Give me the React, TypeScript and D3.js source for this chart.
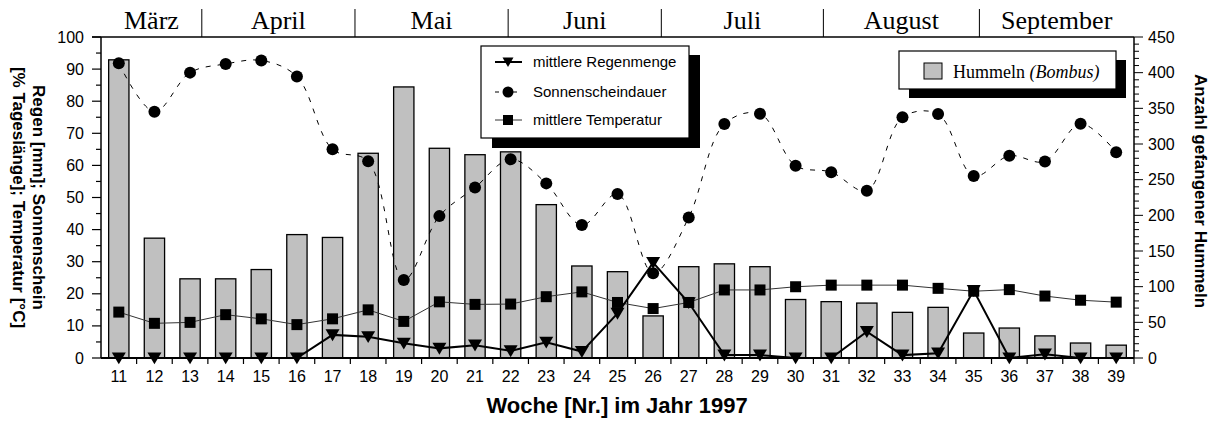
import * as d3 from 'd3';
import React from 'react';

const weeks = [11, 12, 13, 14, 15, 16, 17, 18, 19, 20, 21, 22, 23, 24, 25, 26, 27, 28, 29, 30, 31, 32, 33, 34, 35, 36, 37, 38, 39];
const hummeln = [418, 168, 111, 111, 124, 173, 169, 287, 380, 294, 285, 289, 215, 129, 121, 59, 128, 132, 128, 82, 79, 77, 64, 71, 35, 42, 31, 21, 18];
const sonne = [91.8, 76.7, 88.9, 91.6, 92.7, 87.7, 65, 61.3, 24.3, 44.2, 53.1, 61.9, 54.4, 41.4, 51.1, 26.4, 43.8, 72.9, 76.1, 59.9, 57.9, 52.1, 75, 76, 56.7, 63, 61.2, 73, 64.1];
const temperatur = [14.3, 10.8, 11.1, 13.5, 12.2, 10.4, 12.2, 15, 11.4, 17.5, 16.7, 16.8, 19.1, 20.6, 17.3, 15.4, 17.3, 21.2, 21.2, 22.2, 22.7, 22.7, 22.7, 21.7, 20.8, 21.3, 19.3, 18, 17.4];
const regen = [0, 0, 0, 0, 0, 0, 7.2, 6.6, 4.6, 3.0, 4.0, 2.2, 4.9, 2.0, 13.9, 29.7, 17.2, 0.9, 0.9, 0, 0, 8.2, 0.9, 1.5, 21, 0, 1.2, 0, 0];

const months = ['März', 'April', 'Mai', 'Juni', 'Juli', 'August', 'September'];
// month borders in week units
const monthEdges = [10.5, 13.33, 17.63, 21.93, 26.23, 30.78, 35.16, 39.5];

const leftTicks = d3.range(0, 101, 10);
const rightTicks = d3.range(0, 451, 50);

const sans = '"Liberation Sans", Arial, sans-serif';
const serif = '"Liberation Serif", "Times New Roman", serif';

export default function App() {
  const W = 1221, H = 421;
  const left = 101, right = 1134, top = 37, bottom = 358;

  const x = d3.scaleBand<number>().domain(weeks).range([left, right]).padding(0);
  const xw = d3.scaleLinear().domain([10.5, 39.5]).range([left, right]);
  const yL = d3.scaleLinear().domain([0, 100]).range([bottom, top]);
  const yR = d3.scaleLinear().domain([0, 450]).range([bottom, top]);
  const cx = (w: number) => (x(w) as number) + x.bandwidth() / 2;
  const barW = x.bandwidth() * 0.57;

  const line = (vals: number[]) =>
    d3.line<number>().x((_, i) => cx(weeks[i])).y(v => yL(v))(vals) as string;
  const sunLine = d3.line<number>().x((_, i) => cx(weeks[i])).y(v => yL(v)).curve(d3.curveCatmullRom.alpha(0.5))(sonne) as string;

  const tri = (px: number, py: number, s = 6.5) => `M${px - s},${py - s * 0.8}L${px + s},${py - s * 0.8}L${px},${py + s * 0.9}Z`;

  return (
    <svg width={W} height={H} style={{ position: 'absolute', left: 0, top: 0, background: '#fff' }}>
      {/* month header */}
      <line x1={92} x2={right} y1={top} y2={top} stroke="#000" strokeWidth={1.5} />
      {monthEdges.slice(1, -1).map((m, i) => (
        <line key={'me' + i} x1={xw(m)} x2={xw(m)} y1={9} y2={top} stroke="#000" strokeWidth={1} />
      ))}
      {months.map((m, i) => (
        <text key={m} x={(xw(monthEdges[i]) + xw(monthEdges[i + 1])) / 2} y={29}
          textAnchor="middle" fontFamily={serif} fontSize={26}>{m}</text>
      ))}

      {/* bars */}
      {hummeln.map((v, i) => (
        <rect key={'b' + i} x={cx(weeks[i]) - barW / 2} y={yR(v)} width={barW} height={bottom - yR(v)}
          fill="#c0c0c0" stroke="#000" strokeWidth={1.3} />
      ))}

      {/* frame */}
      <line x1={left} x2={left} y1={top} y2={bottom} stroke="#000" strokeWidth={1.5} />
      <line x1={right} x2={right} y1={top} y2={bottom} stroke="#000" strokeWidth={1.5} />
      <line x1={left} x2={right} y1={bottom} y2={bottom} stroke="#000" strokeWidth={1.8} />

      {/* left axis */}
      {d3.range(0, 101, 5).map(t => (
        <line key={'lt' + t} x1={left} x2={left - (t % 10 === 0 ? 9 : 5)} y1={yL(t)} y2={yL(t)} stroke="#000" strokeWidth={1.2} />
      ))}
      {leftTicks.map(t => (
        <text key={'ll' + t} x={84} y={yL(t) + 5.5} textAnchor="end" fontFamily={sans} fontSize={16}>{t}</text>
      ))}

      {/* right axis */}
      {d3.range(0, 451, 10).map(t => (
        <line key={'rt' + t} x1={right} x2={right + (t % 50 === 0 ? 9 : 5)} y1={yR(t)} y2={yR(t)} stroke="#000" strokeWidth={1} />
      ))}
      {rightTicks.map(t => (
        <text key={'rl' + t} x={1148} y={yR(t) + 5.5} textAnchor="start" fontFamily={sans} fontSize={16}>{t}</text>
      ))}

      {/* bottom axis */}
      {weeks.map(w => (
        <line key={'bt' + w} x1={xw(w + 0.5)} x2={xw(w + 0.5)} y1={bottom} y2={bottom + 6} stroke="#000" strokeWidth={1.2} />
      ))}
      {weeks.map(w => (
        <text key={'bl' + w} x={cx(w)} y={382} textAnchor="middle" fontFamily={sans} fontSize={16}>{w}</text>
      ))}

      {/* temperature */}
      <path d={line(temperatur)} fill="none" stroke="#333" strokeWidth={1} />
      {temperatur.map((v, i) => (
        <rect key={'t' + i} x={cx(weeks[i]) - 5.5} y={yL(v) - 5.5} width={11} height={11} fill="#000" />
      ))}

      {/* sunshine */}
      <path d={sunLine} fill="none" stroke="#000" strokeWidth={1} strokeDasharray="5,7" />
      {sonne.map((v, i) => (
        <circle key={'s' + i} cx={cx(weeks[i])} cy={yL(v)} r={6} fill="#000" />
      ))}

      {/* rain */}
      <path d={line(regen)} fill="none" stroke="#000" strokeWidth={2} />
      {regen.map((v, i) => (
        <path key={'r' + i} d={tri(cx(weeks[i]), yL(v), 7)} fill="#000" />
      ))}

      {/* legend 1 */}
      <rect x={492} y={55} width={208} height={93} fill="#000" />
      <rect x={481} y={46} width={208} height={92} fill="#fff" stroke="#000" strokeWidth={1.2} />
      <line x1={495} x2={522} y1={62} y2={62} stroke="#000" strokeWidth={2} />
      <path d={tri(508, 62, 5.5)} fill="#000" />
      <text x={533} y={67} fontFamily={sans} fontSize={15}>mittlere Regenmenge</text>
      <line x1={495} x2={522} y1={92} y2={92} stroke="#000" strokeWidth={1} strokeDasharray="4,5" />
      <circle cx={508} cy={92} r={5.5} fill="#000" />
      <text x={533} y={97} fontFamily={sans} fontSize={15}>Sonnenscheindauer</text>
      <line x1={495} x2={522} y1={120} y2={120} stroke="#333" strokeWidth={1} />
      <rect x={503} y={115} width={10} height={10} fill="#000" />
      <text x={533} y={125} fontFamily={sans} fontSize={15}>mittlere Temperatur</text>

      {/* legend 2 */}
      <rect x={909} y={60} width={217} height={38} fill="#000" />
      <rect x={899} y={51} width={217} height={38} fill="#fff" stroke="#000" strokeWidth={1.2} />
      <rect x={924} y={63} width={18} height={16} fill="#c0c0c0" stroke="#000" strokeWidth={1} />
      <text x={953} y={78} fontFamily={serif} fontSize={18}>Hummeln <tspan fontStyle="italic">(Bombus)</tspan></text>

      {/* axis titles */}
      <text x={617} y={413} textAnchor="middle" fontFamily={sans} fontSize={22} fontWeight="bold">Woche [Nr.] im Jahr 1997</text>
      <text transform={`translate(33,${(top + bottom) / 2}) rotate(90)`} textAnchor="middle" fontFamily={sans} fontSize={17} fontWeight="bold">Regen [mm]; Sonnenschein</text>
      <text transform={`translate(13,${(top + bottom) / 2}) rotate(90)`} textAnchor="middle" fontFamily={sans} fontSize={17} fontWeight="bold">[% Tageslänge]; Temperatur [°C]</text>
      <text transform={`translate(1195,191) rotate(90)`} textAnchor="middle" fontFamily={sans} fontSize={17} fontWeight="bold">Anzahl gefangener Hummeln</text>
    </svg>
  );
}
